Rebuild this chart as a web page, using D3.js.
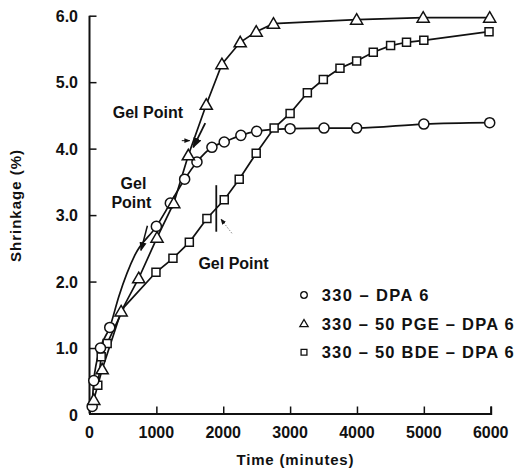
<!DOCTYPE html>
<html>
<head>
<meta charset="utf-8">
<script src="https://cdn.jsdelivr.net/npm/d3@7/dist/d3.min.js"></script>
<style>
  html, body { margin: 0; padding: 0; background: #fff; }
  svg text { font-family: "Liberation Sans", Arial, Helvetica, sans-serif; font-weight: bold; fill: #111; }
</style>
</head>
<body>
<svg id="chart" width="517" height="469"></svg>
<script>
// ---- Data ----
const xTicks = [0, 1000, 2000, 3000, 4000, 5000, 6000];
const yTicks = [0, 1, 2, 3, 4, 5, 6];
const yTickLabels = ["0", "1.0", "2.0", "3.0", "4.0", "5.0", "6.0"];

// 330 - DPA 6 (circles)
const circleT = [40, 64, 164, 303, 1000, 1209, 1423, 1607, 1831, 2015, 2264, 2500, 3000, 3507, 3995, 5000, 5985];
const circleV = [0.12, 0.51, 1.0, 1.31, 2.83, 3.18, 3.54, 3.80, 4.02, 4.10, 4.20, 4.26, 4.30, 4.31, 4.31, 4.37, 4.39];
// line-only points of the circle curve (segment drawn without markers)
const circleCurveT = [440, 680];
const circleCurveV = [1.78, 2.40];

// 330 - 50 PGE - DPA 6 (triangles)
const triT = [64, 190, 473, 736, 1010, 1260, 1478, 1746, 1980, 2254, 2493, 2751, 3995, 4990, 5985];
const triV = [0.22, 0.68, 1.55, 2.05, 2.66, 3.18, 3.90, 4.66, 5.27, 5.60, 5.76, 5.88, 5.94, 5.97, 5.97];

// 330 - 50 BDE - DPA 6 (squares)
const sqT = [124, 175, 264, 994, 1248, 1493, 1756, 2015, 2239, 2493, 2761, 3000, 3258, 3497, 3746, 3995, 4244, 4503, 4741, 5000, 5975];
const sqV = [0.44, 0.87, 1.07, 2.14, 2.35, 2.59, 2.95, 3.23, 3.54, 3.93, 4.31, 4.53, 4.84, 5.04, 5.21, 5.32, 5.45, 5.55, 5.60, 5.63, 5.76];
const sqCurveT = [520];
const sqCurveV = [1.62];

const seriesNames = ["330 \u2013 DPA  6", "330 \u2013 50 PGE \u2013 DPA  6", "330 \u2013 50 BDE \u2013 DPA  6"];
const seriesShapes = ["circle", "triangle", "square"];

const xTitle = "Time (minutes)";
const yTitle = "Shrinkage  (%)";
const gelLabel = "Gel Point";

// ---- Layout ----
const svg = d3.select("#chart");
const x = d3.scaleLinear().domain([0, 6000]).range([89.5, 490.7]);
const y = d3.scaleLinear().domain([0, 6]).range([414.5, 15.7]);

const ink = "#111";

// axes
const gx = svg.append("g").attr("transform", `translate(0,${y(0) - 1})`);
gx.call(d3.axisBottom(x).tickValues(xTicks).tickSize(-7).tickFormat(""));
gx.select(".domain").attr("stroke", ink).attr("stroke-width", 2);
gx.selectAll(".tick line").attr("stroke", ink).attr("stroke-width", 1.5);
gx.selectAll(".tick").filter(d => d === 0).remove();

const gy = svg.append("g").attr("transform", `translate(${x(0)},0)`);
gy.call(d3.axisLeft(y).tickValues(yTicks).tickSize(-7).tickFormat(""));
gy.select(".domain").attr("stroke", ink).attr("stroke-width", 2).attr("d", `M0,${y(6)}V${y(0) - 1}`);
gy.selectAll(".tick line").attr("stroke", ink).attr("stroke-width", 1.5);
gy.selectAll(".tick").filter(d => d === 0).remove();

// tick labels
svg.append("g").selectAll("text").data(xTicks).join("text")
  .attr("x", d => x(d)).attr("y", 438)
  .attr("text-anchor", "middle").attr("font-size", 16)
  .text(d => d);
svg.append("g").selectAll("text").data(yTicks).join("text")
  .attr("x", 78).attr("y", d => y(d) + 6)
  .attr("text-anchor", "end").attr("font-size", 16)
  .text((d, i) => yTickLabels[i]);

// axis titles
svg.append("text").attr("x", 295).attr("y", 465).attr("text-anchor", "middle")
  .attr("font-size", 15).attr("textLength", 117).text(xTitle);
svg.append("text").attr("transform", "translate(21,206) rotate(-90)")
  .attr("text-anchor", "middle").attr("font-size", 15).attr("textLength", 112).text(yTitle);

// ---- Lines ----
function zipPts(ts, vs) { return ts.map((t, i) => [t, vs[i]]); }
const line = d3.line().x(d => x(d[0])).y(d => y(d[1]));
const curve = d3.line().x(d => x(d[0])).y(d => y(d[1])).curve(d3.curveMonotoneX);

const circPts = zipPts(circleT, circleV);
const circLinePts = circPts.concat(zipPts(circleCurveT, circleCurveV)).sort((a, b) => a[0] - b[0]);
const triPts = zipPts(triT, triV);
const sqPts = zipPts(sqT, sqV);
const sqLinePts = sqPts.concat(zipPts(sqCurveT, sqCurveV)).sort((a, b) => a[0] - b[0]);

const lines = svg.append("g").attr("fill", "none").attr("stroke", ink).attr("stroke-width", 1.7);
lines.append("path").attr("d", curve(circLinePts));
lines.append("path").attr("d", line(triPts));
lines.append("path").attr("d", line(sqLinePts));

// ---- Markers ----
const sym = {
  circle: d3.symbol().type(d3.symbolCircle).size(80),
  triangle: d3.symbol().type(d3.symbolTriangle).size(64),
  square: d3.symbol().type(d3.symbolSquare).size(64)
};
function drawMarkers(pts, shape) {
  svg.append("g").selectAll("path").data(pts).join("path")
    .attr("transform", d => `translate(${x(d[0])},${y(d[1]) + (shape === "triangle" ? 1 : 0)})`)
    .attr("d", sym[shape]())
    .attr("fill", "#fff").attr("stroke", ink).attr("stroke-width", 1.5);
}
drawMarkers(sqPts, "square");
drawMarkers(circPts, "circle");
drawMarkers(triPts, "triangle");

// ---- Gel point annotations (data coordinates) ----
svg.append("defs").append("marker").attr("id", "ah")
  .attr("viewBox", "0 0 10 10").attr("refX", 9).attr("refY", 5)
  .attr("markerWidth", 6).attr("markerHeight", 6).attr("orient", "auto")
  .append("path").attr("d", "M0,1 L10,5 L0,9 Z").attr("fill", ink);

const ann = svg.append("g");
// Gel Point 1 (PGE)
ann.append("text").attr("x", x(873)).attr("y", y(4.555) + 6).attr("text-anchor", "middle").attr("font-size", 16).text(gelLabel);
ann.append("line").attr("x1", x(1731)).attr("y1", y(4.385)).attr("x2", x(1552)).attr("y2", y(4.02))
  .attr("stroke", ink).attr("stroke-width", 1.8).attr("marker-end", "url(#ah)");
ann.append("line").attr("x1", x(1380)).attr("y1", y(4.12)).attr("x2", x(1500)).attr("y2", y(4.12))
  .attr("stroke", ink).attr("stroke-width", 1).attr("marker-end", "url(#ah)");
// Gel Point 2 (DPA 6)
ann.append("text").attr("x", x(657)).attr("y", y(3.487) + 6).attr("text-anchor", "middle").attr("font-size", 16).text("Gel");
ann.append("text").attr("x", x(627)).attr("y", y(3.19) + 6).attr("text-anchor", "middle").attr("font-size", 16).text("Point");
ann.append("line").attr("x1", x(866)).attr("y1", y(2.84)).attr("x2", x(770)).attr("y2", y(2.47))
  .attr("stroke", ink).attr("stroke-width", 1.5).attr("marker-end", "url(#ah)");
// Gel Point 3 (BDE)
ann.append("text").attr("x", x(2154)).attr("y", y(2.275) + 6).attr("text-anchor", "middle").attr("font-size", 16).text(gelLabel);
ann.append("line").attr("x1", x(1896)).attr("y1", y(3.45)).attr("x2", x(1896)).attr("y2", y(2.75))
  .attr("stroke", ink).attr("stroke-width", 1.8);
ann.append("line").attr("x1", x(2130)).attr("y1", y(2.726)).attr("x2", x(1965)).attr("y2", y(2.94))
  .attr("stroke", "#888").attr("stroke-width", 1).attr("stroke-dasharray", "1.5,1.5").attr("marker-end", "url(#ah)");

// ---- Legend ----
const leg = svg.append("g");
const legY = [295, 324.3, 352.3];
const legW = [106.7, 192, 192];
seriesNames.forEach((name, i) => {
  const shape = seriesShapes[i];
  const s = shape === "circle" ? d3.symbol().type(d3.symbolCircle).size(34)
          : shape === "triangle" ? d3.symbol().type(d3.symbolTriangle).size(30)
          : d3.symbol().type(d3.symbolSquare).size(34);
  leg.append("path").attr("d", s()).attr("transform", `translate(304,${legY[i]})`)
    .attr("fill", "#fff").attr("stroke", ink).attr("stroke-width", 1.3);
  leg.append("text").attr("x", 321.7).attr("y", legY[i] + 6).attr("font-size", 16.5)
    .attr("textLength", legW[i]).attr("lengthAdjust", "spacing").text(name);
});
</script>
</body>
</html>
